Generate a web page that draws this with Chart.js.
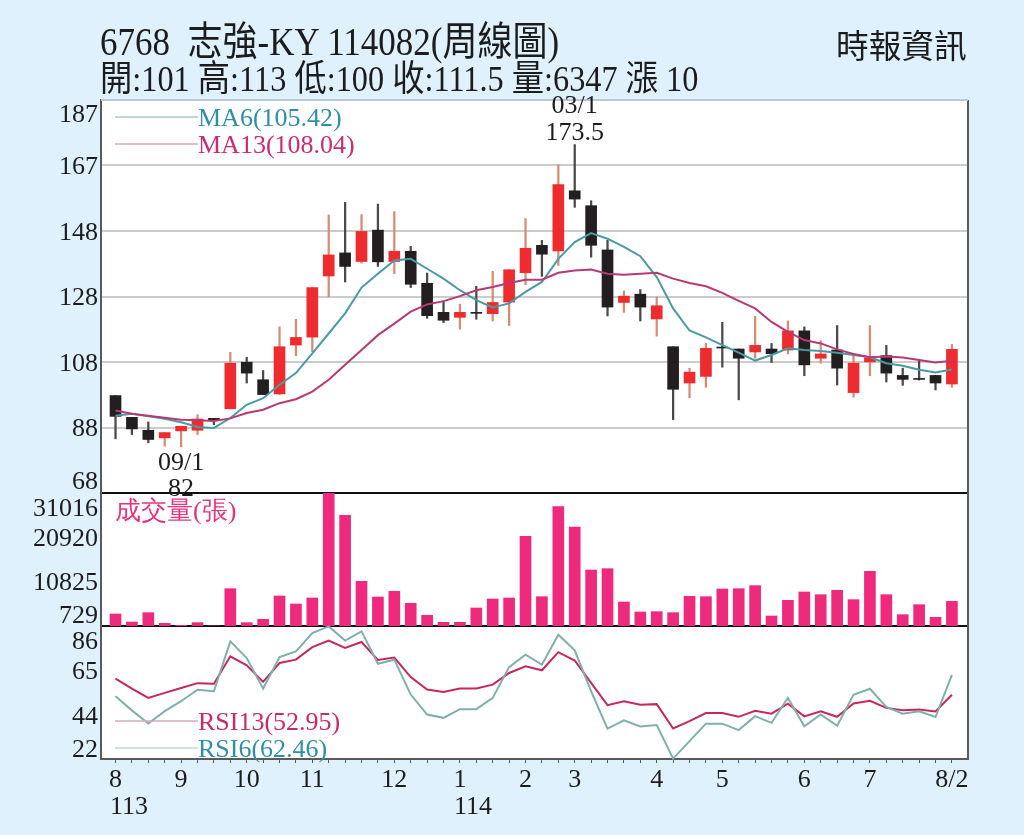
<!DOCTYPE html>
<html>
<head>
<meta charset="utf-8">
<style>
    html, body { margin: 0; padding: 0; background: #dff1fc; }
    #page { position: relative; width: 1024px; height: 835px; overflow: hidden; background: #dff1fc; }
    #chart { position: absolute; left: 0; top: 0; }
    .head { position: absolute; white-space: pre; color: #1c1c1c; font-family: "Liberation Serif", "Noto Sans CJK TC", serif; transform-origin: left center; }
</style>
<script src="https://cdn.jsdelivr.net/npm/chart.js@4"></script>
</head>
<body>
<div id="page">
    <canvas id="chart" width="1024" height="835"></canvas>
    <div class="head" style="left:100px;top:12px;font-size:35px;transform:scaleY(1.15)">6768  志強-KY 114082(周線圖)</div>
    <div class="head" style="left:100px;top:52px;font-size:32.3px;transform:scaleY(1.12)">開:101 高:113 低:100 收:111.5 量:6347 漲 10</div>
    <div class="head" style="left:836px;top:20px;font-size:32.7px">時報資訊</div>
</div>
<script>
const opens = [97.5, 90.9, 87.0, 84.7, 86.8, 87.0, 90.6, 93.5, 107.6, 102.3, 98.0, 112.8, 115.2, 133.7, 140.7, 138.1, 147.6, 138.1, 141.2, 131.5, 122.7, 121.2, 122.7, 122.3, 125.8, 134.7, 143.0, 141.3, 159.5, 155.0, 141.6, 125.7, 128.2, 120.7, 112.3, 101.3, 103.3, 112.2, 111.6, 110.7, 111.6, 111.3, 117.1, 108.8, 111.3, 98.4, 107.7, 109.6, 103.6, 102.7, 103.6, 101];
const closes = [91.2, 87.4, 84.2, 86.3, 88.2, 90.4, 90.2, 107.3, 104.3, 97.8, 112.3, 115.1, 130.2, 140.1, 136.6, 147.2, 138.0, 141.2, 131.2, 121.7, 120.3, 122.7, 122.4, 125.7, 135.6, 142.1, 140.3, 161.4, 157.0, 143.0, 124.3, 127.6, 124.3, 124.7, 99.4, 104.6, 111.8, 111.9, 108.8, 112.7, 110.2, 117.1, 106.8, 110.1, 105.8, 107.3, 108.9, 104.3, 102.4, 102.4, 101.3, 111.5];
const highs = [97.5, 90.9, 89.5, 86.3, 88.2, 91.7, 90.6, 110.6, 109.1, 105.1, 118.3, 120.6, 130.2, 152.2, 156.0, 152.3, 155.5, 153.2, 142.7, 134.6, 126.0, 125.2, 130.6, 135.1, 135.6, 151.1, 144.5, 167.4, 173.5, 156.5, 144.5, 129.2, 129.6, 127.4, 112.3, 105.8, 113.3, 119.7, 111.6, 121.5, 113.3, 120.1, 118.3, 114.1, 118.7, 110.1, 118.7, 112.7, 105.8, 108.3, 103.6, 113];
const lows = [84.4, 85.7, 83.2, 82.2, 82.0, 85.7, 88.7, 93.5, 101.3, 97.8, 97.8, 109.6, 110.8, 127.4, 131.9, 137.6, 136.6, 134.4, 130.2, 120.9, 119.6, 117.6, 120.6, 120.1, 118.7, 131.1, 133.6, 136.9, 154.5, 139.4, 121.6, 122.7, 120.1, 115.5, 90.2, 96.8, 100.0, 106.1, 96.2, 108.8, 107.5, 110.1, 103.5, 107.3, 100.7, 97.0, 103.5, 101.6, 100.6, 102.2, 99.2, 100];
const ma6 = [91.4, 92.0, 91.2, 90.5, 89.4, 88.0, 87.7, 90.7, 94.7, 96.7, 100.8, 104.3, 110.3, 116.3, 122.4, 130.2, 134.4, 138.4, 138.9, 135.9, 132.9, 129.4, 126.4, 124.2, 125.4, 128.9, 131.9, 138.9, 144.0, 146.7, 145.0, 142.5, 139.7, 133.4, 123.9, 117.2, 115.1, 112.8, 110.5, 108.1, 109.8, 111.8, 111.3, 111.0, 110.5, 109.8, 109.1, 107.3, 106.5, 105.3, 104.5, 105.42];
const ma13 = [93.0, 92.0, 91.4, 90.8, 90.2, 90.0, 89.8, 90.6, 92.2, 93.2, 95.2, 96.4, 98.7, 102.3, 106.8, 111.3, 115.8, 119.3, 122.9, 125.1, 126.1, 127.6, 129.4, 130.4, 131.6, 132.6, 132.6, 134.7, 135.4, 135.7, 134.4, 134.1, 134.4, 134.7, 132.9, 131.6, 130.6, 128.6, 126.2, 123.9, 119.8, 116.8, 114.3, 113.3, 111.5, 110.1, 109.1, 109.3, 109.0, 108.3, 107.5, 108.04];
const volumes = [3461, 1640, 3765, 1336, 881, 1488, 729, 9230, 1488, 2247, 7560, 5738, 7105, 31016, 25928, 10900, 7332, 8623, 5890, 3158, 1564, 1564, 4828, 6877, 7105, 21146, 7408, 27901, 23271, 13480, 13784, 6194, 3917, 3993, 3765, 7484, 7408, 9154, 9230, 9913, 3006, 6573, 8471, 7864, 8850, 6725, 13176, 7864, 3310, 5587, 2702, 6347];
const rsi6 = [52.2, 45.4, 39.1, 45.0, 49.8, 55.3, 54.6, 78.6, 70.6, 55.9, 71.1, 73.8, 82.6, 85.8, 79.0, 83.4, 67.8, 69.8, 53.0, 43.4, 41.8, 46.0, 46.0, 51.4, 66.2, 72.2, 67.4, 81.8, 74.3, 54.6, 36.6, 40.6, 37.7, 38.3, 22.2, 30.6, 39.0, 39.0, 35.9, 42.6, 39.4, 51.4, 37.7, 43.4, 38.0, 52.9, 55.8, 47.1, 43.8, 45.0, 42.2, 62.46];
const rsi13 = [60.7, 55.9, 51.4, 53.8, 56.2, 58.5, 58.2, 71.4, 67.1, 59.1, 68.2, 69.8, 75.8, 79.0, 75.4, 78.3, 69.7, 70.8, 61.4, 55.4, 54.3, 55.9, 55.9, 57.8, 63.4, 66.6, 64.7, 73.4, 69.4, 58.6, 47.9, 49.8, 48.1, 48.4, 36.7, 40.2, 44.1, 44.1, 42.3, 45.2, 43.8, 48.6, 42.5, 45.0, 42.3, 48.7, 50.0, 46.6, 45.5, 45.8, 44.9, 52.95];

const monthWeeks = [0, 4, 8, 12, 17, 21, 25, 28, 33, 37, 42, 46, 51];
const monthLabels = ["8", "9", "10", "11", "12", "1", "2", "3", "4", "5", "6", "7", "8/2"];
const priceTicks = [68, 87.83, 107.67, 127.5, 147.33, 167.17, 187];
const priceTickLabels = ["68", "88", "108", "128", "148", "167", "187"];
const volumeTicks = [729, 10825, 20920, 31016];
const volumeTickLabels = ["729", "10825", "20920", "31016"];
const rsiTicks = [22, 43.33, 64.67, 86];
const rsiTickLabels = ["22", "44", "65", "86"];

const LABEL_FONT = '26px "Liberation Serif", serif';
const weeks = opens.map((v, i) => i);

function labelFor(values, labels, value) {
    const i = values.findIndex(v => Math.abs(v - value) < 0.01);
    // the first and last label sit inside the panel, the plugin below draws them
    if (i <= 0 || i === values.length - 1) return '';
    return labels[i];
}

function yScale(min, max, weight, tickValues, tickLabels, gridColor) {
    return {
        position: 'left',
        stack: 'panels',
        stackWeight: weight,
        min: min,
        max: max,
        afterFit: scale => { scale.width = 101; },
        afterBuildTicks: scale => { scale.ticks = tickValues.map(v => ({ value: v })); },
        border: { display: true, color: '#5a5a5a', width: 2 },
        grid: { color: gridColor, lineWidth: 2, drawTicks: false },
        ticks: {
            color: '#1c1c1c',
            font: { family: '"Liberation Serif", serif', size: 26 },
            padding: 3,
            labelOffset: 2,
            autoSkip: false,
            callback: value => labelFor(tickValues, tickLabels, value)
        }
    };
}

const candleColor = i => closes[i] >= opens[i] ? '#ee2b2e' : '#231f20';
const wickColor = i => closes[i] >= opens[i] ? '#d98a70' : '#4a4a4a';

function lineSet(values, color, axis, width) {
    return {
        type: 'line',
        data: values.map((v, i) => ({ x: i, y: v })),
        yAxisID: axis,
        borderColor: color,
        borderWidth: width,
        pointRadius: 0,
        tension: 0,
        clip: false,
        order: 0
    };
}

function text(ctx, str, x, y, color, align) {
    ctx.font = LABEL_FONT;
    ctx.fillStyle = color;
    ctx.textAlign = align || 'left';
    ctx.textBaseline = 'middle';
    ctx.fillText(str, x, y + 2);
}

function legendEntry(ctx, str, y, color, lineColor) {
    ctx.strokeStyle = lineColor;
    ctx.lineWidth = 1.5;
    ctx.beginPath();
    ctx.moveTo(115, y);
    ctx.lineTo(198, y);
    ctx.stroke();
    text(ctx, str, 198, y, color);
}

const panelPlugin = {
    id: 'panelPlugin',
    beforeDraw(chart) {
        const ctx = chart.ctx;
        const area = chart.chartArea;
        ctx.save();
        ctx.fillStyle = '#ffffff';
        ctx.fillRect(area.left, area.top, area.right - area.left, area.bottom - area.top);
        ctx.restore();
    },
    afterDraw(chart) {
        const ctx = chart.ctx;
        const area = chart.chartArea;
        const s = chart.scales;
        ctx.save();

        ctx.strokeStyle = '#5a5a5a';
        ctx.lineWidth = 2;
        ctx.beginPath();
        ctx.moveTo(area.right, area.top);
        ctx.lineTo(area.right, area.bottom);
        ctx.stroke();
        ctx.strokeStyle = '#bcc9d0';
        ctx.beginPath();
        ctx.moveTo(area.left, area.top);
        ctx.lineTo(area.right, area.top);
        ctx.stroke();

        // labels at the ends of each axis are pulled into the panel
        text(ctx, "187", 98, s.price.getPixelForValue(187) + 13, '#1c1c1c', 'right');
        text(ctx, "68", 98, s.price.getPixelForValue(68) - 13, '#1c1c1c', 'right');
        text(ctx, "31016", 98, s.volume.getPixelForValue(31016) + 14, '#1c1c1c', 'right');
        text(ctx, "729", 98, s.volume.getPixelForValue(729) - 12, '#1c1c1c', 'right');
        text(ctx, "86", 98, s.rsi.getPixelForValue(86) + 14, '#1c1c1c', 'right');
        text(ctx, "22", 98, s.rsi.getPixelForValue(22) - 11, '#1c1c1c', 'right');

        // highest and lowest week
        const hx = s.x.getPixelForValue(28);
        const hy = s.price.getPixelForValue(highs[28]);
        text(ctx, "03/1", hx, hy - 40, '#1c1c1c', 'center');
        text(ctx, "173.5", hx, hy - 13, '#1c1c1c', 'center');
        const lx = s.x.getPixelForValue(4);
        const ly = s.price.getPixelForValue(lows[4]);
        text(ctx, "09/1", lx, ly + 14, '#1c1c1c', 'center');
        text(ctx, "82", lx, ly + 40, '#1c1c1c', 'center');

        legendEntry(ctx, "MA6(105.42)", 117, '#2f8fa8', '#a9c9cf');
        legendEntry(ctx, "MA13(108.04)", 144, '#cb2a74', '#d3a9bd');
        text(ctx, "成交量(張)", 115, 510, '#e8327f');
        legendEntry(ctx, "RSI13(52.95)", 721, '#cb2a6a', '#d8a8bd');
        legendEntry(ctx, "RSI6(62.46)", 748, '#2f8fa8', '#c6d6d6');

        text(ctx, "113", 110, 805, '#1c1c1c');
        text(ctx, "114", 454, 805, '#1c1c1c');
        ctx.restore();
    }
};

new Chart(document.getElementById('chart').getContext('2d'), {
    data: {
        datasets: [
            lineSet(ma13, '#b83a72', 'price', 2),
            lineSet(ma6, '#4a9aa5', 'price', 2),
            lineSet(rsi6, '#7fb0ac', 'rsi', 2),
            lineSet(rsi13, '#c8265f', 'rsi', 2),
            {
                type: 'bar',
                data: weeks.map(i => ({ x: i, y: [opens[i], closes[i]] })),
                yAxisID: 'price',
                backgroundColor: weeks.map(candleColor),
                barThickness: 11,
                grouped: false,
                order: 1
            },
            {
                type: 'bar',
                data: weeks.map(i => ({ x: i, y: [lows[i], highs[i]] })),
                yAxisID: 'price',
                backgroundColor: weeks.map(wickColor),
                barThickness: 1.6,
                grouped: false,
                order: 2
            },
            {
                type: 'bar',
                data: weeks.map(i => ({ x: i, y: volumes[i] })),
                yAxisID: 'volume',
                backgroundColor: '#ed2a7c',
                barThickness: 11,
                grouped: false,
                order: 1
            }
        ]
    },
    plugins: [panelPlugin],
    options: {
        responsive: false,
        animation: false,
        devicePixelRatio: 1,
        layout: { padding: { left: 0, top: 100, right: 56, bottom: 0 } },
        plugins: { legend: { display: false }, tooltip: { enabled: false } },
        scales: {
            x: {
                type: 'linear',
                position: 'bottom',
                offset: false,
                min: -0.885,
                max: 51.98,
                afterFit: scale => { scale.height = 76; },
                afterBuildTicks: scale => { scale.ticks = weeks.map(v => ({ value: v })); },
                border: { display: true, color: '#5a5a5a', width: 2 },
                grid: { offset: false, drawOnChartArea: false, color: '#5a5a5a', tickLength: 4 },
                ticks: {
                    color: '#1c1c1c',
                    font: { family: '"Liberation Serif", serif', size: 26 },
                    padding: 2,
                    autoSkip: false,
                    maxRotation: 0,
                    callback: value => {
                        const i = monthWeeks.indexOf(value);
                        return i < 0 ? '' : monthLabels[i];
                    }
                }
            },
            // order of the stack runs from the bottom panel up
            rsi: yScale(22, 86, 133, rsiTicks, rsiTickLabels, 'rgba(0,0,0,0)'),
            volume: yScale(729, 31016, 133, volumeTicks, volumeTickLabels, c => (c.tick.value === 729 || c.tick.value === 31016) ? '#111111' : 'rgba(0,0,0,0)'),
            price: yScale(68, 187, 393, priceTicks, priceTickLabels, c => (c.tick.value === 68 || c.tick.value === 187) ? 'rgba(0,0,0,0)' : '#cccccc')
        }
    }
});
</script>
</body>
</html>
